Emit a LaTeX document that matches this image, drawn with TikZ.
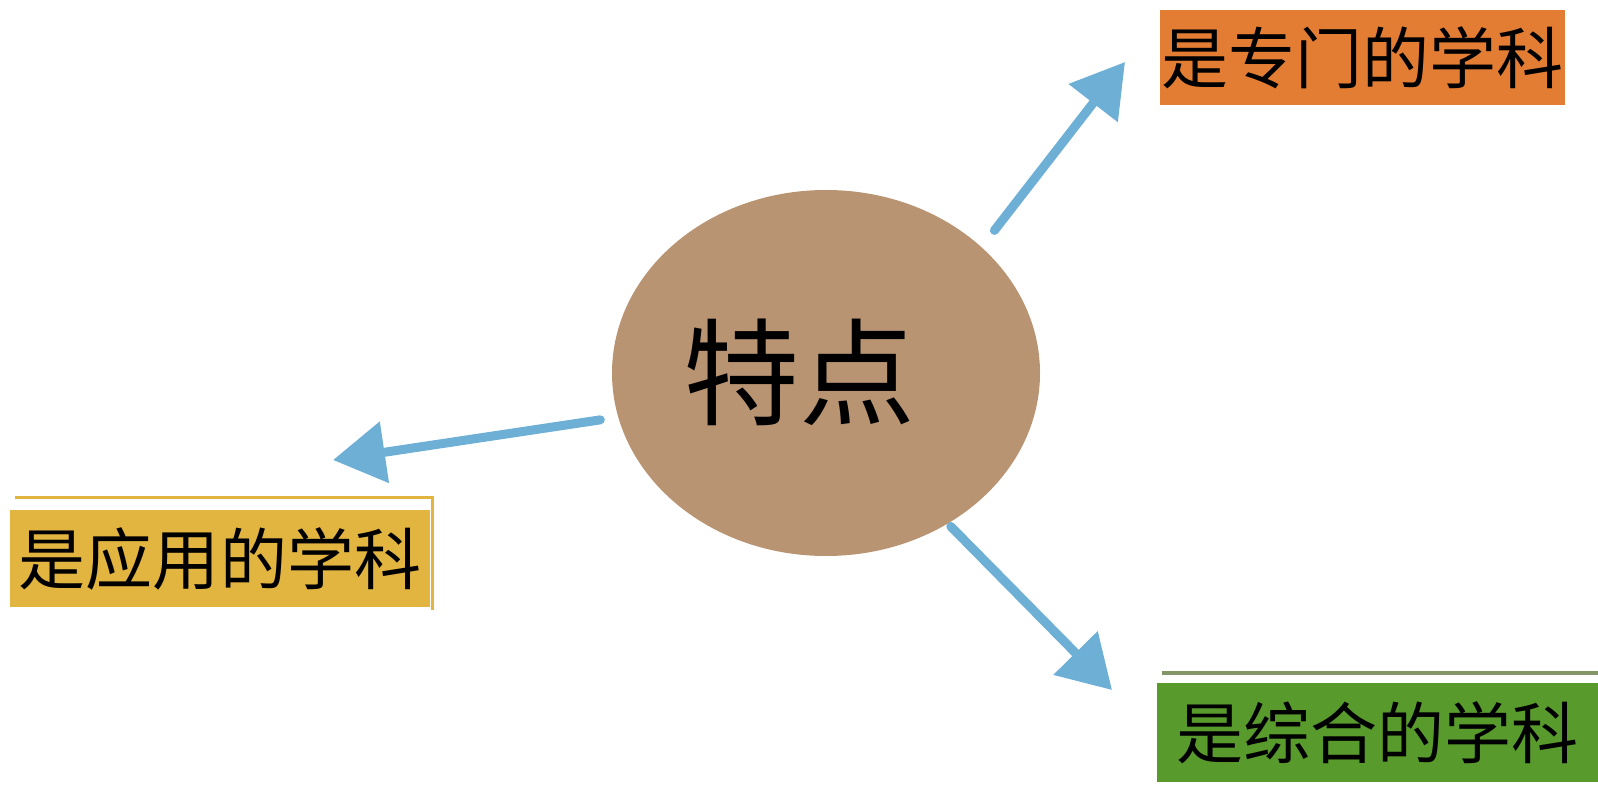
\documentclass[tikz,border=0pt]{standalone}
\usepackage{fontspec}
\newfontfamily\cjk{Noto Sans CJK SC}
\usetikzlibrary{arrows.meta,shapes.geometric,positioning}
\definecolor{crayon}{RGB}{110,175,214}
\definecolor{tan}{RGB}{184,148,114}
\definecolor{orangebox}{RGB}{228,125,52}
\definecolor{goldbox}{RGB}{226,180,64}
\definecolor{greenbox}{RGB}{88,154,44}
\definecolor{greenline}{RGB}{132,150,104}
\tikzset{
boxtext/.style={inner sep=0pt,font=\cjk\fontsize{67}{67}\selectfont,text=black},
crayonarrow/.style={draw=crayon,line width=9pt,line cap=round,-{Triangle[length=52pt,width=60pt]}}
}
\begin{document}
\begin{tikzpicture}[x=1pt,y=-1pt]
\useasboundingbox (0,0) rectangle (1598,799);
%Ellipse
\node (hub) [ellipse,fill=tan,minimum width=428pt,minimum height=366pt,inner sep=0pt] at (826,373) {};
\node (hubtext) at (799,372) {\cjk\fontsize{116}{116}\selectfont 特点};
%Boxes
\node (special) [boxtext,fill=orangebox,minimum width=405pt,minimum height=95pt] at (1362.5,57.5) {是专门的学科};
\node (applied) [boxtext,fill=goldbox,minimum width=420pt,minimum height=97pt] at (220,558.5) {是应用的学科};
\node (combined) [boxtext,fill=greenbox,minimum width=441pt,minimum height=99pt] at (1377.5,732.5) {是综合的学科};
%Frame lines
\draw [goldbox,line width=3pt] (15,497) -- (432,497) -- (432,610);
\draw [greenline,line width=4pt] (1162,673) -- (1598,673);
%Arrow ends
\coordinate (tipspecial) at (1125,62);
\coordinate (tipapplied) at (333,460);
\coordinate (tipcombined) at (1112,690);
%Arrows
\draw [crayonarrow,shorten <=21pt] (hub.39) -- (tipspecial);
\draw [crayonarrow,shorten <=18pt] (hub.192) -- (tipapplied);
\draw [crayonarrow,shorten <=4pt] (hub.-51) -- (tipcombined);
\end{tikzpicture}
\end{document}
